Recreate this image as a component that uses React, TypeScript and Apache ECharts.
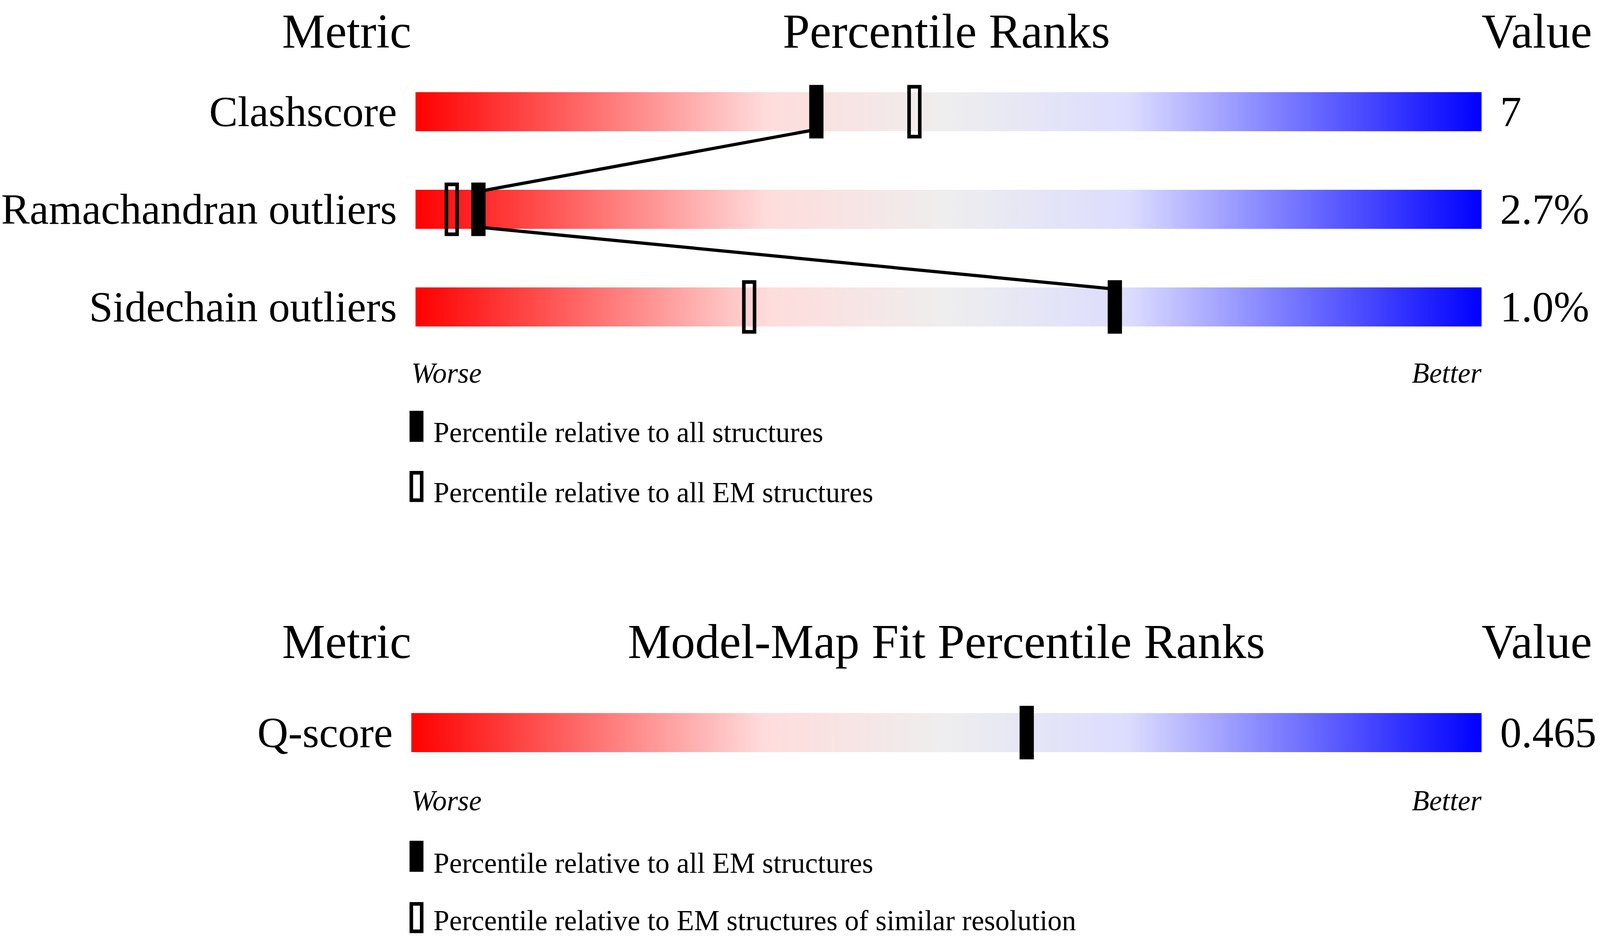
import { useEffect, useRef } from "react";
import * as echarts from "echarts";

// validation metrics (top panel)
const METRICS = ["Clashscore", "Ramachandran outliers", "Sidechain outliers"];
const METRIC_VALUES = ["7", "2.7%", "1.0%"];
const PCT_ALL = [37.6, 5.9, 65.6]; // filled: relative to all structures
const PCT_EM = [46.8, 3.4, 31.3]; // open: relative to all EM structures

// model-map fit (bottom panel)
const FIT_METRICS = ["Q-score"];
const FIT_VALUES = ["0.465"];
const FIT_PCT_EM = [57.5]; // filled: relative to all EM structures

const SERIF = "Liberation Serif";
// layout is designed on a 4485 x 2402 canvas and scaled to the real viewport
const BASE_W = 4485;
const BASE_H = 2402;

const barGradient = () =>
  new echarts.graphic.LinearGradient(0, 0, 1, 0, [
    { offset: 0, color: "#ff0000" },
    { offset: 0.33, color: "#ffdcdc" },
    { offset: 0.5, color: "#eeeeee" },
    { offset: 0.67, color: "#dcdcff" },
    { offset: 1, color: "#0000ff" },
  ]);

export default function App() {
  const ref = useRef<HTMLDivElement>(null);
  useEffect(() => {
    if (!ref.current) return;
    const el = ref.current;
    const sx = el.clientWidth / BASE_W;
    const sy = el.clientHeight / BASE_H;
    const s = Math.min(sx, sy);
    const X = (v: number) => v * sx;
    const Y = (v: number) => v * sy;
    const S = (v: number) => v * s;

    const chart = echarts.init(el, undefined, { renderer: "svg" });

    const markerItem = (params: any, api: any) => {
      const c = api.coord([api.value(0), api.value(1)]);
      if (api.value(2) === 1) {
        return {
          type: "rect",
          shape: { x: c[0] - S(20), y: c[1] - S(75), width: S(40), height: S(150) },
          style: { fill: "#000" },
        };
      }
      return {
        type: "rect",
        shape: { x: c[0] - S(15), y: c[1] - S(70), width: S(30), height: S(140) },
        style: { fill: "none", stroke: "#000", lineWidth: S(10) },
      };
    };

    const connectorItem = (params: any, api: any) => {
      const a = api.coord([api.value(0), api.value(1)]);
      const b = api.coord([api.value(2), api.value(3)]);
      return {
        type: "line",
        shape: { x1: a[0], y1: a[1] + S(50), x2: b[0], y2: b[1] - S(50) },
        style: { stroke: "#000", lineWidth: S(9) },
      };
    };

    // (x, y) = anchor / baseline position on the base canvas
    const txt = (text: string, x: number, baseline: number, size: number, align: string, italic = false) => ({
      type: "text",
      x: X(x),
      y: Y(baseline) - S(size * 0.3375),
      silent: true,
      style: {
        text,
        fill: "#000",
        fontSize: S(size),
        fontFamily: SERIF,
        fontStyle: italic ? "italic" : "normal",
        align,
        textAlign: align,
        verticalAlign: "middle",
        textVerticalAlign: "middle",
      },
    });

    const filledIcon = (x: number, y: number) => ({
      type: "rect",
      silent: true,
      shape: { x: X(x), y: Y(y), width: S(39), height: S(87) },
      style: { fill: "#000" },
    });
    const openIcon = (x: number, y: number) => ({
      type: "rect",
      silent: true,
      shape: { x: X(x) + S(5), y: Y(y) + S(5), width: S(29), height: S(77) },
      style: { fill: "none", stroke: "#000", lineWidth: S(10) },
    });

    const labelAxis = (gridIndex: number, data: string[], position: "left" | "right") => ({
      type: "category",
      gridIndex,
      data,
      inverse: true,
      position,
      axisLine: { show: false },
      axisTick: { show: false },
      splitLine: { show: false },
      axisLabel: {
        fontSize: S(120),
        fontFamily: SERIF,
        color: "#000",
        margin: S(52),
        align: position === "left" ? "right" : "left",
        padding: [S(18), 0, 0, 0],
      },
    });

    const connectors = PCT_ALL.slice(0, -1).map((p, i) => [p, i, PCT_ALL[i + 1], i + 1]);
    const markers = [
      ...PCT_EM.map((p, i) => [p, i, 0]),
      ...PCT_ALL.map((p, i) => [p, i, 1]),
    ];
    const fitMarkers = FIT_PCT_EM.map((p, i) => [p, i, 1]);

    const option: any = {
      animation: false,
      backgroundColor: "#fff",
      grid: [
        { left: X(1153), width: X(3000), top: Y(161), height: Y(750) },
        { left: X(1153), width: X(3000), top: Y(1751), height: Y(250) },
      ],
      xAxis: [
        { type: "value", gridIndex: 0, min: 0, max: 100, show: false },
        { type: "value", gridIndex: 1, min: 0, max: 100, show: false },
      ],
      yAxis: [
        labelAxis(0, METRICS, "left"),
        labelAxis(0, METRIC_VALUES, "right"),
        labelAxis(1, FIT_METRICS, "left"),
        labelAxis(1, FIT_VALUES, "right"),
      ],
      series: [
        {
          type: "bar",
          xAxisIndex: 0,
          yAxisIndex: 0,
          data: METRICS.map(() => 100),
          barWidth: Y(100),
          silent: true,
          itemStyle: { color: barGradient() },
          z: 1,
        },
        {
          type: "custom",
          xAxisIndex: 0,
          yAxisIndex: 0,
          data: connectors,
          encode: { x: [0, 2], y: [1, 3] },
          renderItem: connectorItem,
          silent: true,
          z: 2,
        },
        {
          type: "custom",
          xAxisIndex: 0,
          yAxisIndex: 0,
          data: markers,
          encode: { x: 0, y: 1 },
          renderItem: markerItem,
          silent: true,
          z: 3,
        },
        {
          type: "bar",
          xAxisIndex: 1,
          yAxisIndex: 2,
          data: FIT_METRICS.map(() => 100),
          barWidth: Y(100),
          silent: true,
          itemStyle: { color: barGradient() },
          z: 1,
        },
        {
          type: "custom",
          xAxisIndex: 1,
          yAxisIndex: 2,
          data: fitMarkers,
          encode: { x: 0, y: 1 },
          renderItem: markerItem,
          silent: true,
          z: 3,
        },
      ],
      graphic: [
        // top panel
        txt("Metric", 1153, 122, 136, "right"),
        txt("Percentile Ranks", 2653, 122, 136, "center"),
        txt("Value", 4153, 122, 136, "left"),
        txt("Worse", 1153, 980, 80, "left", true),
        txt("Better", 4153, 980, 80, "right", true),
        filledIcon(1148, 1052),
        txt("Percentile relative to all structures", 1215, 1132, 80, "left"),
        openIcon(1148, 1206),
        txt("Percentile relative to all EM structures", 1215, 1286, 80, "left"),
        // bottom panel
        txt("Metric", 1153, 1685, 136, "right"),
        txt("Model-Map Fit Percentile Ranks", 2653, 1685, 136, "center"),
        txt("Value", 4153, 1685, 136, "left"),
        txt("Worse", 1153, 2075, 80, "left", true),
        txt("Better", 4153, 2075, 80, "right", true),
        filledIcon(1148, 2153),
        txt("Percentile relative to all EM structures", 1215, 2235, 80, "left"),
        openIcon(1148, 2310),
        txt("Percentile relative to EM structures of similar resolution", 1215, 2382, 80, "left"),
      ],
    };
    chart.setOption(option);
    return () => chart.dispose();
  }, []);
  return (
    <div
      ref={ref}
      style={{ position: "fixed", left: 0, top: 0, width: "100vw", height: "100vh" }}
      aria-label="Percentile ranks slider chart"
    />
  );
}
